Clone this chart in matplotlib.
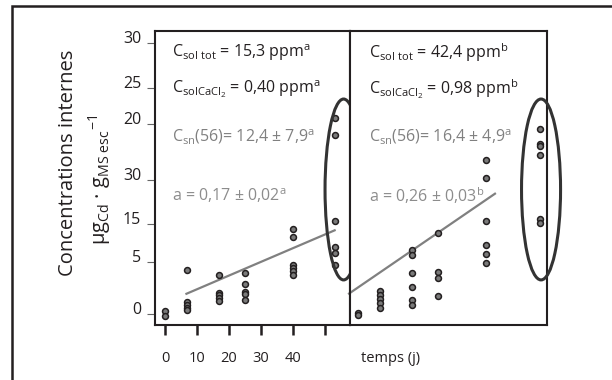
import matplotlib.pyplot as plt
from matplotlib.patches import Ellipse, Rectangle

# font setup: Myriad-like look
plt.rcParams['font.family'] = ['Open Sans', 'DejaVu Sans']
plt.rcParams['mathtext.fontset'] = 'custom'
plt.rcParams['mathtext.rm'] = 'Open Sans'
plt.rcParams['mathtext.it'] = 'Open Sans:italic'

dark = '#231f20'
grey = '#808080'

# y axis: tick positions (nonlinear labels as printed in the figure)
ytick_pos = [0, 5.8, 10.0, 14.9, 21.1, 25.2, 30.1]
ytick_lab = ['0', '5', '15', '30', '20', '25', '30']
xtick_pos = [0, 10, 20, 30, 40, 50]
xtick_lab = ['0', '10', '20', '30', '40', '']

# left panel (sol 1)
days_1 = [0, 0, 7, 7, 7, 7, 7, 17, 17, 17, 17, 17, 25, 25, 25, 25, 25,
          40, 40, 40, 40, 40, 40, 53, 53, 53, 53, 53, 53]
conc_1 = [0.33, -0.19, 4.97, 1.37, 1.0, 0.74, 0.44,
          4.37, 2.37, 2.11, 1.81, 1.48,
          4.63, 3.33, 2.52, 2.22, 1.56,
          9.48, 8.63, 5.44, 5.14, 4.81, 4.37,
          21.85, 19.89, 10.33, 7.48, 6.85, 5.48]
fit_x_1 = [6.7, 53.0]
fit_y_1 = [2.28, 9.33]

# right panel (sol 2)
days_2 = [0, 0, 7, 7, 7, 7, 7, 17, 17, 17, 17, 17, 17, 25, 25, 25, 25,
          40, 40, 40, 40, 40, 40, 57, 57, 57, 57, 57, 57]
conc_2 = [0.19, -0.03, 2.62, 2.14, 1.67, 1.22, 0.73,
          7.19, 6.56, 4.63, 3.07, 1.56, 1.0,
          9.04, 4.67, 4.07, 2.07,
          17.1, 15.15, 10.33, 7.74, 6.67, 5.74,
          20.63, 18.96, 18.7, 17.67, 10.63, 10.14]
fit_x_2 = [-2.8, 42.8]
fit_y_2 = [2.3, 13.4]

fig = plt.figure(figsize=(6.12, 3.8), dpi=100)
ax1 = fig.add_axes([155/612, 55/380, 195/612, 294/380])
ax2 = fig.add_axes([350/612, 55/380, 197/612, 294/380])

ax1.set_xlim(-3.125, 57.8)
ax2.set_xlim(-2.5, 59.06)
for ax in (ax1, ax2):
    ax.set_ylim(-1.19, 31.48)
    for s in ax.spines.values():
        s.set_linewidth(1.5)
        s.set_color(dark)

# points
ax1.scatter(days_1, conc_1, s=18, color='#7a7a7a', edgecolors=dark, linewidths=1.1, zorder=3)
ax2.scatter(days_2, conc_2, s=18, color='#7a7a7a', edgecolors=dark, linewidths=1.1, zorder=3)

# fitted lines
ax1.plot(fit_x_1, fit_y_1, color=grey, lw=1.6, zorder=2)
ax2.plot(fit_x_2, fit_y_2, color=grey, lw=1.6, zorder=2, clip_on=False)

# ellipses around the day-56 values
ax1.add_patch(Ellipse((55.8, 13.87), 11.6, 20.1, fill=False, ec='#333333', lw=2.2, clip_on=False, zorder=4))
ax2.add_patch(Ellipse((57.2, 13.87), 12.2, 20.1, fill=False, ec='#333333', lw=2.2, clip_on=False, zorder=4))

# y axis
ax1.set_yticks(ytick_pos)
ax1.set_yticklabels(ytick_lab, fontsize=11.5, color=dark)
for lab in ax1.get_yticklabels():
    lab.set_va('baseline')
ax1.tick_params(axis='y', length=6, width=0.8, color='#666666', pad=4)

# x axis
ax1.set_xticks(xtick_pos)
ax1.set_xticklabels(xtick_lab, fontsize=10.5, color=dark)
ax1.tick_params(axis='x', length=7.5, width=1.8, color=dark, pad=11)
ax2.set_xticks([])
ax2.set_yticks([])

ax2.text(10.3, -4.86, 'temps (j)', fontsize=10.5, color=dark, ha='center', va='center', clip_on=False)

# y label (two lines)
fig.text(68/612, 1 - 163/380, 'Concentrations internes', rotation=90, fontsize=14.5,
         color=dark, ha='center', va='center')
fig.text(100/612, 1 - 180/380, r'μg$_{\mathrm{Cd}}$ · g$_{\mathrm{MS\ esc}}$$^{\mathrm{-1}}$',
         rotation=90, fontsize=14.5, color=dark, ha='center', va='center')

# annotations
fs = 11.5
ax1.text(2.2, 29.1, r'C$_{\mathrm{sol\ tot}}$ = 15,3 ppm$^{\mathrm{a}}$', fontsize=fs, color=dark, va='center')
ax1.text(2.2, 25.0, r'C$_{\mathrm{solCaCl_2}}$ = 0,40 ppm$^{\mathrm{a}}$', fontsize=fs, color=dark, va='center')
ax1.text(2.2, 19.8, r'C$_{\mathrm{sn}}$(56)= 12,4 ± 7,9$^{\mathrm{a}}$', fontsize=fs, color=grey, va='center')
ax1.text(2.2, 13.2, r'a = 0,17 ± 0,02$^{\mathrm{a}}$', fontsize=fs, color='#8c8c8c', va='center')

ax2.text(3.4, 29.1, r'C$_{\mathrm{sol\ tot}}$ = 42,4 ppm$^{\mathrm{b}}$', fontsize=fs, color=dark, va='center')
ax2.text(3.4, 25.0, r'C$_{\mathrm{solCaCl_2}}$ = 0,98 ppm$^{\mathrm{b}}$', fontsize=fs, color=dark, va='center')
ax2.text(3.4, 19.8, r'C$_{\mathrm{sn}}$(56)= 16,4 ± 4,9$^{\mathrm{a}}$', fontsize=fs, color=grey, va='center')
ax2.text(3.4, 13.2, r'a = 0,26 ± 0,03$^{\mathrm{b}}$', fontsize=fs, color='#8c8c8c', va='center')

# outer frame (runs off the right and bottom edges)
fig.add_artist(Rectangle((12/612, -0.2), 1.2, 1.2 - 6/380, transform=fig.transFigure,
                         fill=False, ec=dark, lw=1.8))

fig.savefig('out.png', dpi=100)
